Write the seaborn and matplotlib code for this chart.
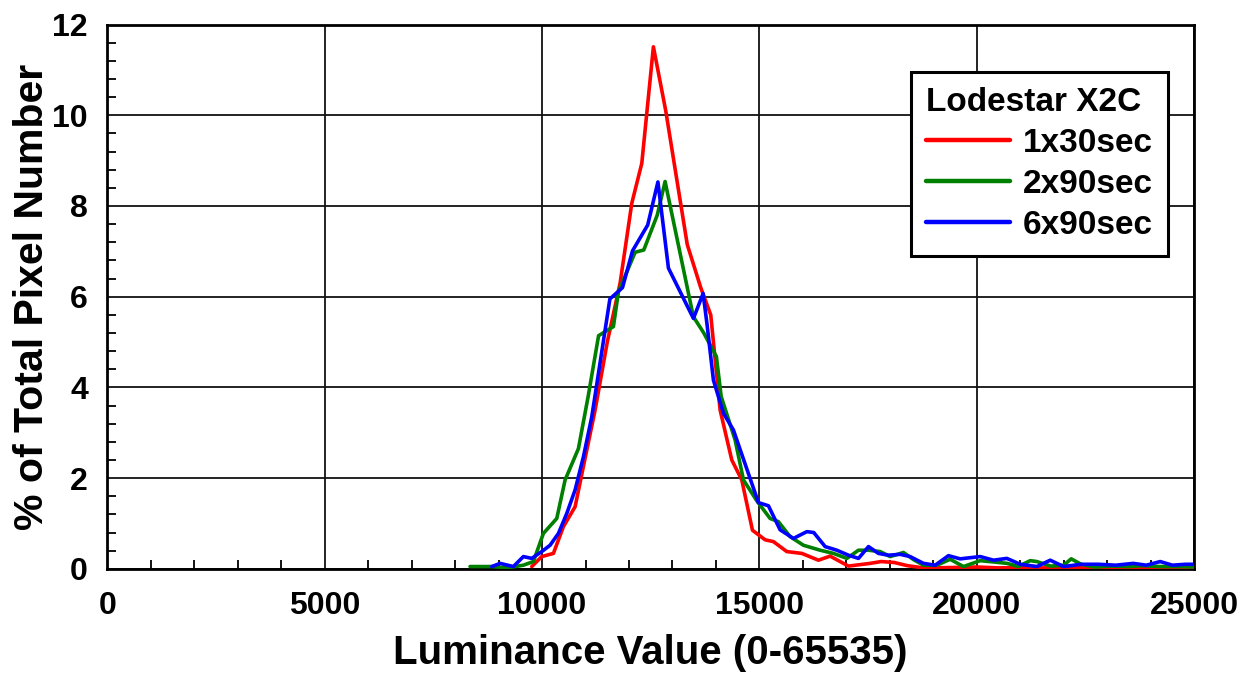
import numpy as np
import pandas as pd
import matplotlib
matplotlib.use("Agg")
import matplotlib.pyplot as plt
import seaborn as sns
from matplotlib.ticker import MultipleLocator
from matplotlib.lines import Line2D

# ---- data ----
red_x = [9763, 9993, 10261, 10491, 10760, 11029, 11220, 11500, 11795, 12064, 12294, 12561,
         12845, 13340, 13650, 13880, 14096, 14364, 14594, 14840, 15131, 15322, 15630, 15975,
         16358, 16627, 17048, 17548, 17800, 18100, 18400, 18700, 19000, 19500, 20000, 20500,
         21000, 21500, 22000, 22500, 23000, 23500, 24000, 24500, 25000]
red_y = [0.05, 0.27, 0.34, 0.93, 1.37, 2.62, 3.50, 5.00, 6.30, 8.06, 8.94, 11.51,
         10.10, 7.15, 6.20, 5.60, 3.50, 2.40, 1.96, 0.85, 0.64, 0.60, 0.38, 0.34,
         0.19, 0.28, 0.06, 0.12, 0.16, 0.14, 0.07, 0.03, 0.02, 0.03, 0.04, 0.02,
         0.03, 0.02, 0.03, 0.02, 0.02, 0.03, 0.02, 0.02, 0.02]

green_x = [8343, 8843, 9200, 9570, 9800, 10030, 10338, 10530, 10836, 11060, 11300, 11641,
           11757, 12141, 12340, 12650, 12830, 13480, 13720, 14010, 14120, 14441, 14633, 14940,
           15246, 15437, 15705, 16012, 16397, 16703, 17012, 17279, 17509, 17778, 18008, 18314,
           18550, 18774, 19082, 19388, 19695, 20080, 20400, 20700, 20950, 21230, 21383, 21700,
           22000, 22173, 22400, 22700, 23100, 23500, 23800, 24200, 24600, 25000]
green_y = [0.05, 0.05, 0.02, 0.08, 0.16, 0.78, 1.11, 1.96, 2.65, 3.80, 5.14, 5.34,
           6.11, 6.98, 7.03, 7.80, 8.54, 5.56, 5.20, 4.68, 3.80, 2.84, 1.96, 1.50,
           1.11, 1.04, 0.71, 0.52, 0.41, 0.34, 0.23, 0.41, 0.41, 0.38, 0.27, 0.36,
           0.20, 0.08, 0.08, 0.21, 0.05, 0.18, 0.15, 0.12, 0.05, 0.18, 0.16, 0.06,
           0.08, 0.22, 0.10, 0.04, 0.06, 0.05, 0.07, 0.05, 0.05, 0.04]

blue_x = [8843, 9034, 9340, 9570, 9763, 9993, 10184, 10376, 10568, 10760, 10951, 11143,
          11560, 11850, 12080, 12430, 12665, 12907, 13482, 13705, 13800, 13942, 14172, 14402,
          14977, 15207, 15476, 15783, 16091, 16250, 16512, 16781, 17048, 17279, 17509, 17739,
          17969, 18238, 18467, 18774, 19043, 19349, 19618, 20080, 20385, 20693, 21000, 21383,
          21690, 21996, 22400, 22800, 23200, 23600, 23900, 24220, 24500, 24800, 25000]
blue_y = [0.05, 0.12, 0.05, 0.27, 0.23, 0.38, 0.52, 0.78, 1.22, 1.74, 2.47, 3.35,
          5.95, 6.20, 7.01, 7.58, 8.53, 6.63, 5.52, 6.07, 5.35, 4.16, 3.43, 3.06,
          1.46, 1.39, 0.86, 0.67, 0.82, 0.80, 0.49, 0.41, 0.30, 0.23, 0.49, 0.34,
          0.30, 0.32, 0.27, 0.12, 0.08, 0.29, 0.22, 0.27, 0.19, 0.23, 0.10, 0.05,
          0.19, 0.05, 0.10, 0.10, 0.08, 0.12, 0.08, 0.16, 0.08, 0.10, 0.10]

series_names = ["1x30sec", "2x90sec", "6x90sec"]
series_colors = ["#ff0000", "#008000", "#0000ff"]
x_ticks = [0, 5000, 10000, 15000, 20000, 25000]
y_ticks = [0, 2, 4, 6, 8, 10, 12]

frames = []
for name, xs, ys in zip(series_names, [red_x, green_x, blue_x], [red_y, green_y, blue_y]):
    frames.append(pd.DataFrame({"lum": xs, "pct": ys, "series": name}))
df = pd.concat(frames, ignore_index=True)

sns.set_theme(style="white")
plt.rcParams["font.family"] = ["Liberation Sans", "DejaVu Sans"]
plt.rcParams["font.weight"] = "bold"
plt.rcParams["text.color"] = "black"
plt.rcParams["axes.labelcolor"] = "black"
plt.rcParams["xtick.color"] = "black"
plt.rcParams["ytick.color"] = "black"

fig = plt.figure(figsize=(12.53, 6.73), dpi=100)
ax = fig.add_axes([0.0857, 0.1548, 0.8673, 0.8087])

sns.lineplot(data=df, x="lum", y="pct", hue="series", hue_order=series_names,
             palette=dict(zip(series_names, series_colors)), estimator=None,
             sort=False, units="series", linewidth=2.6, ax=ax, legend=False, zorder=3)

ax.set_xlim(0, 25000)
ax.set_ylim(0, 12)
ax.set_xticks(x_ticks)
ax.set_yticks(y_ticks)
ax.set_xticklabels([str(v) for v in x_ticks], fontsize=23, fontweight="bold", color="black")
ax.set_yticklabels([str(v) for v in y_ticks], fontsize=23, fontweight="bold", color="black")
ax.xaxis.set_minor_locator(MultipleLocator(1000))
ax.yaxis.set_minor_locator(MultipleLocator(0.4))
ax.tick_params(which="both", direction="in", color="black", width=1.3,
               bottom=True, left=True, top=False, right=False)
ax.tick_params(which="major", length=0)
ax.tick_params(which="minor", length=6.5)
ax.tick_params(axis="x", which="major", pad=16)
ax.tick_params(axis="y", which="major", pad=14)

ax.grid(True, which="major", color="#111111", linewidth=1.3)
ax.set_axisbelow(True)
for sp in ax.spines.values():
    sp.set_visible(True)
    sp.set_color("black")
    sp.set_linewidth(2.0)

ax.set_xlabel("Luminance Value (0-65535)", fontsize=29, fontweight="bold",
              labelpad=9, color="black")
ax.set_ylabel("% of Total Pixel Number", fontsize=29.5, fontweight="bold",
              labelpad=1, color="black")

handles = [Line2D([0], [0], color=c, lw=3.2) for c in series_colors]
leg = ax.legend(handles, series_names, title="Lodestar X2C", loc="upper right",
                bbox_to_anchor=(0.976, 0.913), frameon=True, fancybox=False,
                framealpha=1, edgecolor="black", prop={"size": 24, "weight": "bold"},
                title_fontproperties={"size": 24, "weight": "bold"},
                handlelength=2.5, handletextpad=0.4, labelspacing=0.3,
                borderpad=0.45, borderaxespad=0, alignment="left")
leg.get_frame().set_linewidth(2.2)
leg.set_zorder(5)
for t in leg.get_texts():
    t.set_color("black")
leg.get_title().set_color("black")

fig.savefig("out.png", dpi=100, facecolor="white")
